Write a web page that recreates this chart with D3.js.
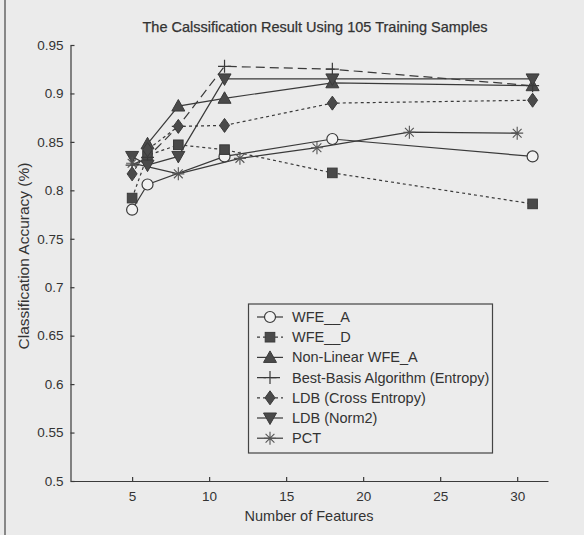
<!DOCTYPE html>
<html>
<head>
<meta charset="utf-8">
<script src="https://cdn.jsdelivr.net/npm/d3@7"></script>
<style>
  body { margin: 0; background: #ebebeb; }
  text { font-family: "Liberation Sans", Arial, sans-serif; fill: #333; }
</style>
</head>
<body>
<script>
// values
var xTicks = [5, 10, 15, 20, 25, 30];
var yTicks = [0.5, 0.55, 0.6, 0.65, 0.7, 0.75, 0.8, 0.85, 0.9, 0.95];
var yTickLabels = ["0.5", "0.55", "0.6", "0.65", "0.7", "0.75", "0.8", "0.85", "0.9", "0.95"];

var names = ["WFE__A", "WFE__D", "Non-Linear WFE_A", "Best-Basis Algorithm (Entropy)",
  "LDB (Cross Entropy)", "LDB (Norm2)", "PCT"];

var featWFEA = [5, 6, 11, 18, 31];
var accWFEA = [0.780, 0.806, 0.835, 0.853, 0.835];
var featWFED = [5, 6, 8, 11, 18, 31];
var accWFED = [0.792, 0.836, 0.847, 0.842, 0.818, 0.786];
var featNonLin = [6, 8, 11, 18, 31];
var accNonLin = [0.848, 0.887, 0.895, 0.911, 0.908];
var featBest = [5, 6, 8, 11, 18, 31];
var accBest = [0.826, 0.834, 0.866, 0.928, 0.925, 0.908];
var featCross = [5, 6, 8, 11, 18, 31];
var accCross = [0.817, 0.842, 0.866, 0.867, 0.890, 0.893];
var featNorm2 = [5, 6, 8, 11, 18, 31];
var accNorm2 = [0.835, 0.826, 0.835, 0.915, 0.915, 0.915];
var featPCT = [5, 8, 12, 17, 23, 30];
var accPCT = [0.828, 0.817, 0.833, 0.844, 0.860, 0.859];

var markers = ["circle", "square", "triUp", "plus", "diamond", "triDown", "star"];
var dashes = [null, "3,3", null, "9,5", "3,3", null, null];

var series = [
  [featWFEA, accWFEA], [featWFED, accWFED], [featNonLin, accNonLin], [featBest, accBest],
  [featCross, accCross], [featNorm2, accNorm2], [featPCT, accPCT]
].map(function(s, i) {
  return {
    name: names[i], marker: markers[i], dash: dashes[i],
    points: s[0].map(function(f, j) { return {x: f, y: s[1][j]}; })
  };
});

var ink = "#3a3a3a";

var svg = d3.select("body").append("svg")
    .attr("width", 584)
    .attr("height", 535);

// scan frame edge on the left
svg.append("line")
    .attr("x1", 5).attr("x2", 5).attr("y1", 0).attr("y2", 535)
    .style("stroke", "#666").style("stroke-width", 1.5);

var x = d3.scaleLinear().domain([1, 32]).range([70.5, 548]);
var y = d3.scaleLinear().domain([0.5, 0.95]).range([481, 45]);

var xAxis = svg.append("g")
    .attr("transform", "translate(0," + y(0.5) + ")")
    .call(d3.axisBottom(x).tickValues(xTicks).tickSizeInner(-4).tickSizeOuter(0).tickPadding(10));

var yAxis = svg.append("g")
    .attr("transform", "translate(" + x(1) + ",0)")
    .call(d3.axisLeft(y).tickValues(yTicks).tickSizeInner(-4).tickSizeOuter(0).tickPadding(7)
      .tickFormat(function(d, i) { return yTickLabels[i]; }));

[xAxis, yAxis].forEach(function(g) {
  g.selectAll("path, line").style("stroke", ink).style("stroke-width", 1.2);
  g.selectAll("text").style("font-size", "13.5px").style("fill", "#333")
    .style("font-family", "'Liberation Sans', Arial, sans-serif");
});

svg.append("text")
    .attr("x", 315).attr("y", 32)
    .attr("text-anchor", "middle")
    .style("font-size", "14.5px")
    .style("stroke", "#333").style("stroke-width", 0.25)
    .text("The Calssification Result Using 105 Training Samples");

svg.append("text")
    .attr("x", 309).attr("y", 521)
    .attr("text-anchor", "middle")
    .style("font-size", "14.5px")
    .text("Number of Features");

svg.append("text")
    .attr("transform", "translate(29,256) rotate(-90)")
    .attr("text-anchor", "middle")
    .style("font-size", "15.5px")
    .text("Classification Accuracy (%)");

function drawMarker(g, type, cx, cy) {
  var s = 5.5;
  if (type === "circle") {
    g.append("circle").attr("cx", cx).attr("cy", cy).attr("r", s)
      .style("fill", "#f2f2f2").style("stroke", ink).style("stroke-width", 1.2);
  } else if (type === "square") {
    g.append("rect").attr("x", cx - 4.8).attr("y", cy - 4.8).attr("width", 9.6).attr("height", 9.6)
      .style("fill", "#4a4a4a").style("stroke", ink);
  } else if (type === "triUp") {
    g.append("path").attr("d", "M" + cx + "," + (cy - 6.5) + "L" + (cx + 6.5) + "," + (cy + 5) + "L" + (cx - 6.5) + "," + (cy + 5) + "Z")
      .style("fill", "#4a4a4a").style("stroke", ink);
  } else if (type === "triDown") {
    g.append("path").attr("d", "M" + cx + "," + (cy + 6.5) + "L" + (cx + 6.5) + "," + (cy - 5) + "L" + (cx - 6.5) + "," + (cy - 5) + "Z")
      .style("fill", "#4a4a4a").style("stroke", ink);
  } else if (type === "diamond") {
    g.append("path").attr("d", "M" + cx + "," + (cy - 7) + "L" + (cx + 5) + "," + cy + "L" + cx + "," + (cy + 7) + "L" + (cx - 5) + "," + cy + "Z")
      .style("fill", "#4a4a4a").style("stroke", ink);
  } else if (type === "plus") {
    g.append("path").attr("d", "M" + (cx - 6.5) + "," + cy + "H" + (cx + 6.5) + "M" + cx + "," + (cy - 6.5) + "V" + (cy + 6.5))
      .style("fill", "none").style("stroke", ink).style("stroke-width", 1.2);
  } else if (type === "star") {
    var d = 4.4;
    g.append("path").attr("d", "M" + (cx - 6) + "," + cy + "H" + (cx + 6) + "M" + cx + "," + (cy - 6.5) + "V" + (cy + 6.5) +
        "M" + (cx - d) + "," + (cy - d) + "L" + (cx + d) + "," + (cy + d) + "M" + (cx - d) + "," + (cy + d) + "L" + (cx + d) + "," + (cy - d))
      .style("fill", "none").style("stroke", "#555").style("stroke-width", 1.1);
  }
}

var line = d3.line()
    .x(function(d) { return x(d.x); })
    .y(function(d) { return y(d.y); });

var plot = svg.append("g");

series.forEach(function(s) {
  plot.append("path")
      .datum(s.points)
      .attr("d", line)
      .style("fill", "none")
      .style("stroke", ink)
      .style("stroke-width", 1.2)
      .style("stroke-dasharray", s.dash);
});

series.forEach(function(s) {
  s.points.forEach(function(p) {
    drawMarker(plot, s.marker, x(p.x), y(p.y));
  });
});

// legend
var legend = svg.append("g");
legend.append("rect")
    .attr("x", 248.5).attr("y", 304)
    .attr("width", 244).attr("height", 149)
    .style("fill", "#ececec")
    .style("stroke", "#444")
    .style("stroke-width", 1.2);

series.forEach(function(s, i) {
  var ly = 317 + i * 20.2;
  legend.append("line")
      .attr("x1", 257).attr("x2", 283).attr("y1", ly).attr("y2", ly)
      .style("stroke", ink).style("stroke-width", 1.2)
      .style("stroke-dasharray", s.dash);
  drawMarker(legend, s.marker, 270, ly);
  legend.append("text")
      .attr("x", 292).attr("y", ly + 5)
      .style("font-size", "14.5px")
      .text(s.name);
});
</script>
</body>
</html>
